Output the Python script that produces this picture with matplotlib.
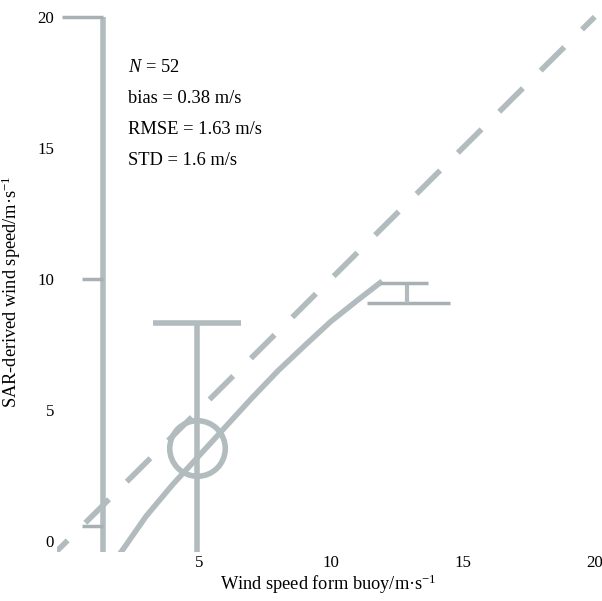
import matplotlib
matplotlib.use("Agg")
import matplotlib.pyplot as plt

plt.rcParams['font.family'] = ['Liberation Serif', 'DejaVu Serif']
plt.rcParams['mathtext.fontset'] = 'custom'
plt.rcParams['mathtext.rm'] = 'Liberation Serif'
plt.rcParams['mathtext.it'] = 'Liberation Serif:italic'

# 1:1 reference line
ref_x = [-0.5, 20]
ref_y = [-0.5, 20]

# fitted curve
fit_x = [1.9, 2.05, 3.0, 4.0, 5.0, 6.0, 7.0, 8.0, 9.0, 10.0, 11.0, 11.86]
fit_y = [-0.62, -0.42, 0.95, 2.15, 3.25, 4.35, 5.45, 6.5, 7.45, 8.38, 9.18, 9.85]

# point with large error bar
pt_x = [4.92]
pt_y = [3.55]
pt_yerr = [4.77]

# left vertical bar and its ticks
bar_x = 1.36
bar_top = 20.0
bar_cap_left = -0.19
bar_ticks_y = [10.0, 0.57]
bar_ticks_left = 0.57

# right horizontal bar
rbar_y = 9.08
rbar_x = [11.36, 14.5]
rstem_x = 12.9
rcap_y = 9.85
rcap_x = [11.86, 13.67]

stats = ["$N$ = 52", "bias = 0.38 m/s", "RMSE = 1.63 m/s", "STD = 1.6 m/s"]

grey = '#b2bbbe'
grey_dark = '#a7b1b4'

fig = plt.figure(figsize=(6.02, 6.01), dpi=100)
ax = fig.add_axes([0.0947, 0.0815, 0.902, 0.9035])

ax.plot(ref_x, ref_y, color=grey, lw=4, linestyle=(2.5, (6, 4.5)))
ax.plot(fit_x, fit_y, color=grey, lw=4, solid_joinstyle='round')

ax.errorbar(pt_x, pt_y, yerr=pt_yerr, fmt='o', mfc='none', mec=grey, ms=40, mew=4,
            ecolor=grey, elinewidth=4, capsize=31.7, capthick=2.5)

ax.vlines(bar_x, -5, bar_top, color=grey, lw=4)
ax.hlines(bar_top, bar_cap_left, bar_x, color=grey_dark, lw=2.5)
ax.hlines(bar_ticks_y, bar_ticks_left, bar_x, color=grey_dark, lw=2.5)

ax.hlines(rbar_y, rbar_x[0], rbar_x[1], color=grey_dark, lw=2.5)
ax.vlines(rstem_x, rbar_y, rcap_y, color=grey, lw=3)
ax.hlines(rcap_y, rcap_x[0], rcap_x[1], color=grey_dark, lw=2.5)

for i, s in enumerate(stats):
    ax.text(0.13, 0.892 - i * 0.057, s, transform=ax.transAxes, fontsize=13.3,
            va='center', ha='left')

ax.set_xlim(-0.38, 20.2)
ax.set_ylim(-0.42, 20.3)
ax.set_xticks([5, 10, 15, 20])
ax.set_yticks([0, 5, 10, 15, 20])
ax.tick_params(length=0, labelsize=12.2, pad=2)
for sp in ax.spines.values():
    sp.set_visible(False)

ax.set_xlabel("Wind speed form buoy/m·s$^{-1}$", fontsize=13.2, labelpad=1)
ax.set_ylabel("SAR-derived wind speed/m·s$^{-1}$", fontsize=13.2)
ax.yaxis.set_label_coords(-0.062, 0.479)

fig.savefig("out.png", dpi=100)
